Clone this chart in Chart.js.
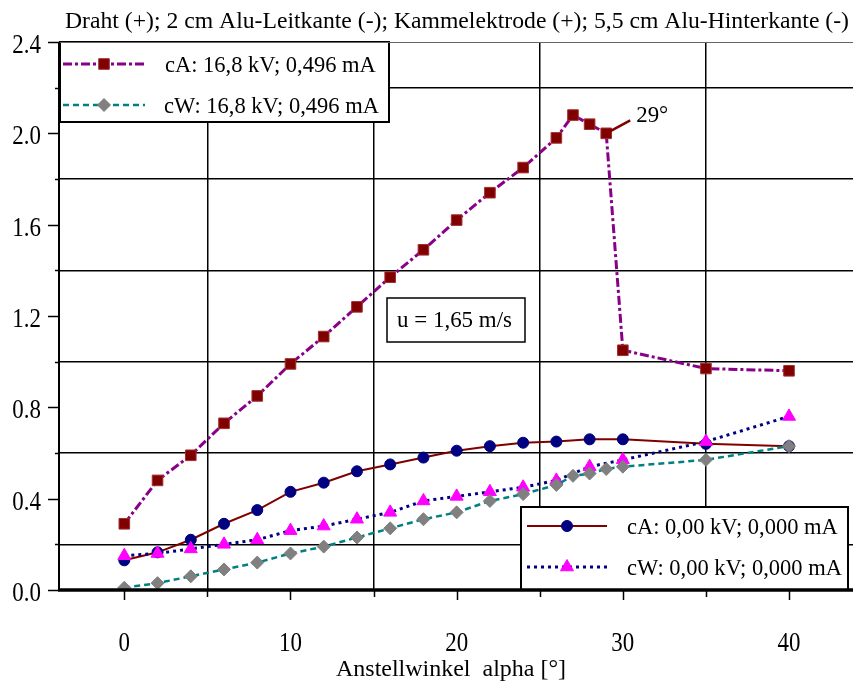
<!DOCTYPE html>
<html>
<head>
<meta charset="utf-8">
<script src="https://cdn.jsdelivr.net/npm/chart.js@4.4.0/dist/chart.umd.min.js"></script>
<style>
html, body { margin: 0; padding: 0; background: #fff; }
#wrap { width: 853px; height: 682px; }
</style>
</head>
<body>
<div id="wrap"><canvas id="chart" width="853" height="682"></canvas></div>
<script>
// Anstellwinkel alpha [°]
const anglesHV = [0, 2, 4, 6, 8, 10, 12, 14, 16, 18, 20, 22, 24, 26, 27, 28, 29, 30, 35, 40];
const anglesNull = [0, 2, 4, 6, 8, 10, 12, 14, 16, 18, 20, 22, 24, 26, 28, 30, 35, 40];

// 16,8 kV; 0,496 mA
const cA_HV = [0.29, 0.48, 0.59, 0.73, 0.85, 0.99, 1.11, 1.24, 1.37, 1.49, 1.62, 1.74, 1.85, 1.98, 2.08, 2.04, 2.00, 1.05, 0.97, 0.96];
const cW_HV = [0.01, 0.03, 0.06, 0.09, 0.12, 0.16, 0.19, 0.23, 0.27, 0.31, 0.34, 0.39, 0.42, 0.46, 0.50, 0.51, 0.53, 0.54, 0.57, 0.63];
// 0,00 kV; 0,000 mA
const cA_null = [0.13, 0.165, 0.22, 0.29, 0.35, 0.43, 0.47, 0.52, 0.55, 0.58, 0.61, 0.63, 0.645, 0.65, 0.66, 0.66, 0.64, 0.63];
const cW_null = [0.15, 0.16, 0.18, 0.20, 0.22, 0.26, 0.28, 0.31, 0.34, 0.39, 0.41, 0.43, 0.45, 0.48, 0.54, 0.57, 0.65, 0.76];

const xTicks = [0, 5, 10, 15, 20, 25, 30, 35, 40];
const xLabels = ['0', '', '10', '', '20', '', '30', '', '40'];
const yTicks = [0, 0.2, 0.4, 0.6, 0.8, 1.0, 1.2, 1.4, 1.6, 1.8, 2.0, 2.2, 2.4];
const yLabels = ['0.0', '', '0.4', '', '0.8', '', '1.2', '', '1.6', '', '2.0', '', '2.4'];

const seriesNames = ['cA: 16,8 kV; 0,496 mA', 'cW: 16,8 kV; 0,496 mA', 'cA: 0,00 kV; 0,000 mA', 'cW: 0,00 kV; 0,000 mA'];
const titleText = 'Draht (+); 2 cm Alu-Leitkante (-); Kammelektrode (+); 5,5 cm Alu-Hinterkante (-)';
const xTitle = 'Anstellwinkel  alpha [°]';
const noteText = 'u = 1,65 m/s';
const peakText = '29°';

const SERIF = '"Liberation Serif", "Times New Roman", serif';

function pts(xs, ys) {
    return xs.map((x, i) => ({ x: x, y: ys[i] }));
}

const datasets = [
    { label: seriesNames[0], data: pts(anglesHV, cA_HV), borderColor: '#880088', borderWidth: 3, borderDash: [9, 3, 3, 3],
      pointStyle: 'rect', pointRadius: 7.5, pointBackgroundColor: '#800000', pointBorderColor: '#a03030', pointBorderWidth: 1, order: 3 },
    { label: seriesNames[1], data: pts(anglesHV, cW_HV), borderColor: '#008080', borderWidth: 2.5, borderDash: [6, 4],
      pointStyle: 'rectRot', pointRadius: 6.5, pointBackgroundColor: '#808080', pointBorderColor: '#808080', pointBorderWidth: 1, order: 1 },
    { label: seriesNames[2], data: pts(anglesNull, cA_null), borderColor: '#800000', borderWidth: 2, borderDash: [],
      pointStyle: 'circle', pointRadius: 5.5, pointBackgroundColor: '#000080', pointBorderColor: '#000080', pointBorderWidth: 1, order: 4 },
    { label: seriesNames[3], data: pts(anglesNull, cW_null), borderColor: '#000080', borderWidth: 3, borderDash: [3, 4],
      pointStyle: 'triangle', pointRadius: 7.5, pointBackgroundColor: '#ff00ff', pointBorderColor: '#ff00ff', pointBorderWidth: 1, order: 2 }
];
datasets.forEach(d => { d.fill = false; d.tension = 0; d.showLine = true; });

function isOdd(v, step) {
    const r = Math.round(v / step);
    return Math.abs(v / step - r) < 1e-6 && r % 2 === 1;
}

// text, optionally squeezed to a given width
function text(ctx, str, x, y, size, width, align, sx) {
    ctx.save();
    ctx.font = size + 'px ' + SERIF;
    const w = ctx.measureText(str).width;
    const s = width ? width / w : (sx || 1);
    ctx.translate(x, y);
    ctx.scale(s, 1);
    ctx.textAlign = align || 'left';
    ctx.textBaseline = 'alphabetic';
    ctx.fillStyle = '#000';
    ctx.fillText(str, 0, 0);
    ctx.restore();
}

function marker(ctx, ds, x, y) {
    ctx.save();
    ctx.fillStyle = ds.pointBackgroundColor;
    ctx.strokeStyle = ds.pointBorderColor;
    ctx.lineWidth = ds.pointBorderWidth;
    ctx.setLineDash([]);
    Chart.helpers.drawPoint(ctx, { pointStyle: ds.pointStyle, radius: ds.pointRadius, rotation: 0, borderWidth: ds.pointBorderWidth }, x, y);
    ctx.restore();
}

function legendBox(ctx, x0, y0, x1, y1, rows) {
    ctx.save();
    ctx.fillStyle = '#fff';
    ctx.fillRect(x0, y0, x1 - x0, y1 - y0);
    ctx.strokeStyle = '#000';
    ctx.lineWidth = 2;
    ctx.strokeRect(x0, y0, x1 - x0, y1 - y0);
    rows.forEach(r => {
        const ds = datasets[r.i];
        ctx.beginPath();
        ctx.strokeStyle = ds.borderColor;
        ctx.lineWidth = ds.borderWidth;
        ctx.setLineDash(ds.borderDash);
        ctx.moveTo(r.lx0, r.y);
        ctx.lineTo(r.lx1, r.y);
        ctx.stroke();
        marker(ctx, ds, (r.lx0 + r.lx1) / 2, r.y);
        text(ctx, ds.label, r.tx, r.y + 8, 22.5, 0, 'left');
    });
    ctx.restore();
}

const decor = {
    id: 'decor',
    beforeDraw(chart) {
        const ctx = chart.ctx;
        ctx.save();
        ctx.fillStyle = '#fff';
        ctx.fillRect(0, 0, chart.width, chart.height);
        ctx.restore();
    },
    afterDatasetsDraw(chart) {
        const ctx = chart.ctx;
        const xs = chart.scales.x, ys = chart.scales.y;

        // 29° pointer
        const px = xs.getPixelForValue(29), py = ys.getPixelForValue(cA_HV[anglesHV.indexOf(29)]);
        ctx.save();
        ctx.strokeStyle = '#800000';
        ctx.lineWidth = 2.5;
        ctx.beginPath();
        ctx.moveTo(px, py);
        ctx.lineTo(px + 24, py - 13);
        ctx.stroke();
        ctx.restore();
        text(ctx, peakText, px + 30, py - 11, 24, 32, 'left');

        // u box
        ctx.save();
        ctx.fillStyle = '#fff';
        ctx.fillRect(387, 298, 138, 44);
        ctx.strokeStyle = '#000';
        ctx.lineWidth = 1.5;
        ctx.strokeRect(387, 298, 138, 44);
        ctx.restore();
        text(ctx, noteText, 397, 327, 23, 115, 'left');

        // legends
        legendBox(ctx, 60, 42, 389, 122, [
            { i: 0, y: 64, lx0: 63, lx1: 145, tx: 165 },
            { i: 1, y: 105, lx0: 63, lx1: 145, tx: 164 }
        ]);
        legendBox(ctx, 521, 507, 848, 590, [
            { i: 2, y: 526, lx0: 527, lx1: 607, tx: 627 },
            { i: 3, y: 567, lx0: 527, lx1: 607, tx: 627 }
        ]);
    },
    afterDraw(chart) {
        const ctx = chart.ctx;
        const xs = chart.scales.x, ys = chart.scales.y;
        const a = chart.chartArea;
        ctx.save();
        // top border
        ctx.strokeStyle = '#666';
        ctx.lineWidth = 1;
        ctx.beginPath();
        ctx.moveTo(a.left, a.top + 0.5);
        ctx.lineTo(a.right, a.top + 0.5);
        ctx.stroke();
        // axes
        ctx.strokeStyle = '#000';
        ctx.lineWidth = 2;
        ctx.beginPath();
        ctx.moveTo(a.left, a.top);
        ctx.lineTo(a.left, a.bottom + 1);
        ctx.stroke();
        ctx.lineWidth = 3.5;
        ctx.beginPath();
        ctx.moveTo(a.left - 1, a.bottom);
        ctx.lineTo(a.right, a.bottom);
        ctx.stroke();
        // tick marks
        ctx.lineWidth = 1.5;
        xTicks.forEach((v, i) => {
            const x = Math.round(xs.getPixelForValue(v)) + 0.5;
            ctx.beginPath();
            ctx.moveTo(x, a.bottom);
            ctx.lineTo(x, a.bottom + (xLabels[i] ? 10 : 7));
            ctx.stroke();
        });
        yTicks.forEach((v, i) => {
            const y = Math.round(ys.getPixelForValue(v)) + 0.5;
            ctx.beginPath();
            ctx.moveTo(a.left, y);
            ctx.lineTo(a.left - (yLabels[i] ? 11 : 4), y);
            ctx.stroke();
        });
        ctx.restore();
        // tick labels
        xTicks.forEach((v, i) => {
            if (xLabels[i]) text(ctx, xLabels[i], xs.getPixelForValue(v), 651, 27, 0, 'center', 0.85);
        });
        yTicks.forEach((v, i) => {
            if (yLabels[i]) text(ctx, yLabels[i], 41, ys.getPixelForValue(v) + 11, 27, 0, 'right', 0.85);
        });
        // titles
        text(ctx, titleText, 457, 28, 23, 784, 'center');
        text(ctx, xTitle, 451, 676, 23, 230, 'center');
    }
};

new Chart(document.getElementById('chart'), {
    type: 'line',
    data: { datasets: datasets },
    options: {
        responsive: false,
        animation: false,
        devicePixelRatio: 1,
        layout: { autoPadding: false, padding: { left: 59, top: 42, right: 0, bottom: 92 } },
        plugins: { legend: { display: false }, tooltip: { enabled: false }, title: { display: false } },
        scales: {
            x: {
                type: 'linear', min: -3.93, max: 43.85,
                afterBuildTicks: s => { s.ticks = xTicks.map(v => ({ value: v })); },
                afterFit: s => { s.height = 0; },
                ticks: { display: false },
                border: { display: false },
                grid: { drawTicks: false, lineWidth: 1.5,
                        color: c => (c.tick && isOdd(c.tick.value, 5)) ? '#000' : 'rgba(0,0,0,0)' }
            },
            y: {
                type: 'linear', min: 0, max: 2.4,
                afterBuildTicks: s => { s.ticks = yTicks.map(v => ({ value: v })); },
                afterFit: s => { s.width = 0; },
                ticks: { display: false },
                border: { display: false },
                grid: { drawTicks: false, lineWidth: 1.5,
                        color: c => (c.tick && isOdd(c.tick.value, 0.2)) ? '#000' : 'rgba(0,0,0,0)' }
            }
        }
    },
    plugins: [decor]
});
</script>
</body>
</html>
